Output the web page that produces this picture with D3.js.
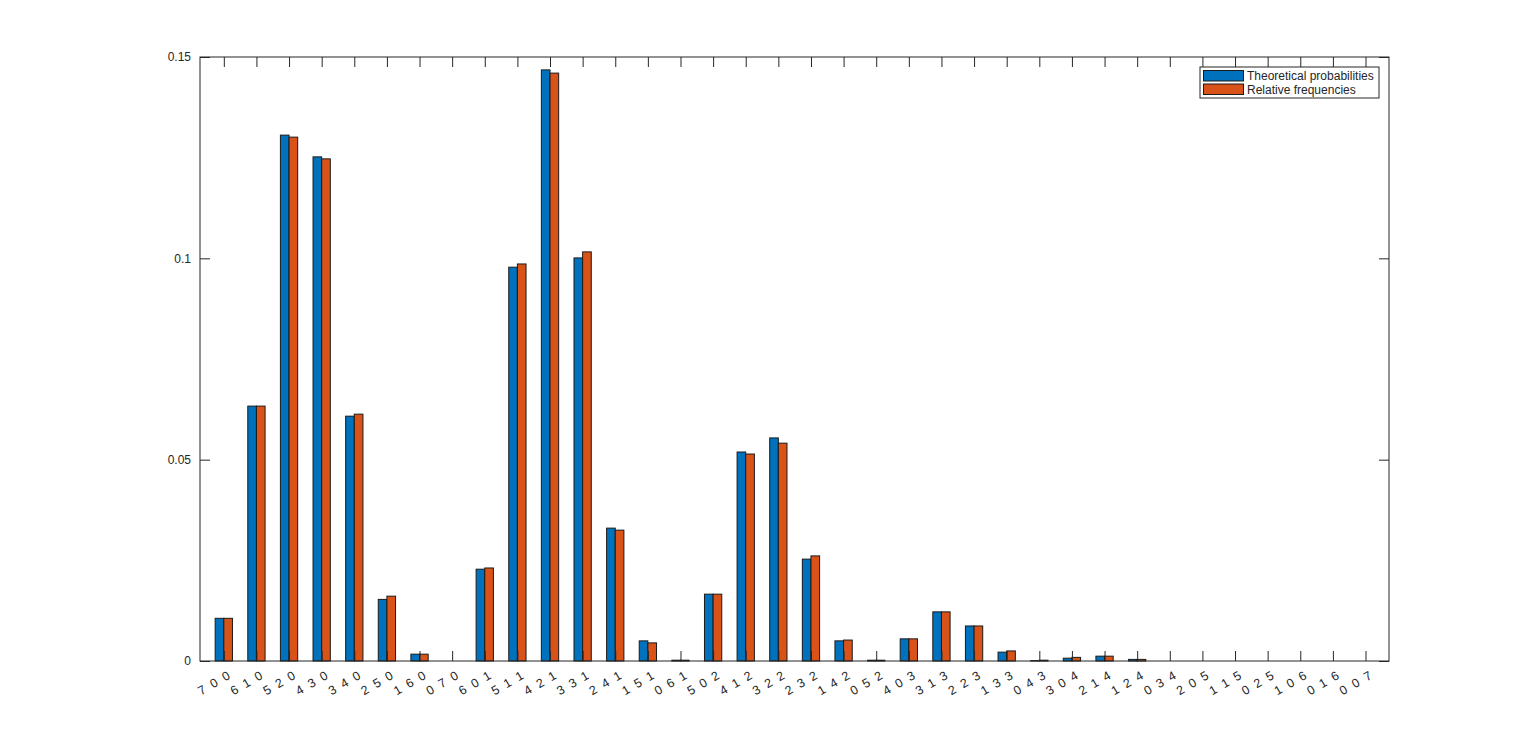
<!DOCTYPE html>
<html>
<head>
<meta charset="utf-8">
<script src="https://cdn.jsdelivr.net/npm/d3@7"></script>
<style>
  html, body { margin: 0; padding: 0; background: #fff; }
  svg { display: block; font-family: "Liberation Sans", Arial, Helvetica, sans-serif; }
</style>
</head>
<body>
<svg id="chart" width="1536" height="744"></svg>
<script>
const categories = ["7 0 0","6 1 0","5 2 0","4 3 0","3 4 0","2 5 0","1 6 0","0 7 0",
  "6 0 1","5 1 1","4 2 1","3 3 1","2 4 1","1 5 1","0 6 1",
  "5 0 2","4 1 2","3 2 2","2 3 2","1 4 2","0 5 2",
  "4 0 3","3 1 3","2 2 3","1 3 3","0 4 3",
  "3 0 4","2 1 4","1 2 4","0 3 4",
  "2 0 5","1 1 5","0 2 5",
  "1 0 6","0 1 6","0 0 7"];
const theoretical = [0.0106,0.0633,0.1306,0.1252,0.0608,0.0153,0.0017,0.0000,
  0.0228,0.0978,0.1468,0.1001,0.0330,0.0050,0.0002,
  0.0166,0.0519,0.0554,0.0253,0.0050,0.0002,
  0.0055,0.0122,0.0087,0.0022,0.0001,
  0.0007,0.0012,0.0004,0.0000,
  0,0,0, 0,0,0];
const relative = [0.0106,0.0633,0.1301,0.1247,0.0613,0.0161,0.0017,0.0000,
  0.0231,0.0986,0.1460,0.1016,0.0325,0.0045,0.0002,
  0.0166,0.0514,0.0541,0.0261,0.0052,0.0002,
  0.0055,0.0122,0.0087,0.0025,0.0002,
  0.0009,0.0012,0.0004,0.0000,
  0,0,0, 0,0,0];
const yTicks = [0, 0.05, 0.1, 0.15];
const yTickLabels = ["0", "0.05", "0.1", "0.15"];
const seriesNames = ["Theoretical probabilities", "Relative frequencies"];
const seriesColors = ["#0072BD", "#D95319"];

const svg = d3.select("#chart");
const L = 200, R = 1389, T = 57, B = 661;
const textColor = "#262626";

const x = d3.scaleLinear().domain([0.27, 36.72]).range([L, R]);
const y = d3.scaleLinear().domain([0, 0.15]).range([B, T]);
const bw = 0.265;
const idx = categories.map((_, i) => i + 1);

// bars
const series = [theoretical, relative];
series.forEach((vals, s) => {
  svg.append("g").selectAll("rect")
    .data(vals.map((v, i) => ({v, i: i + 1})).filter(d => d.v > 0))
    .join("rect")
    .attr("x", d => s === 0 ? x(d.i - bw) : x(d.i))
    .attr("width", d => x(d.i + bw) - x(d.i))
    .attr("y", d => y(d.v))
    .attr("height", d => y(0) - y(d.v))
    .attr("fill", seriesColors[s])
    .attr("stroke", "#1a1a1a")
    .attr("stroke-width", 1);
});

// axes box
svg.append("rect").attr("x", L).attr("y", T).attr("width", R - L).attr("height", B - T)
  .attr("fill", "none").attr("stroke", textColor).attr("stroke-width", 1);

// bottom axis
const gB = svg.append("g").attr("transform", `translate(0,${B})`)
  .call(d3.axisBottom(x).tickValues(idx).tickSize(-10).tickFormat((d) => categories[d - 1]));
gB.select(".domain").remove();
gB.selectAll(".tick line").attr("stroke", textColor);
gB.selectAll(".tick text")
  .attr("fill", textColor)
  .attr("font-size", 12.5)
  .style("white-space", "pre")
  .text(d => categories[d - 1].split(" ").join("  "))
  .attr("text-anchor", "end")
  .attr("y", 0).attr("dy", "0.75em")
  .attr("transform", "translate(2,9) rotate(-30)");

// top ticks
const gT = svg.append("g").attr("transform", `translate(0,${T})`)
  .call(d3.axisTop(x).tickValues(idx).tickSize(-10).tickFormat(""));
gT.select(".domain").remove();
gT.selectAll(".tick line").attr("stroke", textColor);

// left axis
const gL = svg.append("g").attr("transform", `translate(${L},0)`)
  .call(d3.axisLeft(y).tickValues(yTicks).tickSize(-10).tickPadding(9)
    .tickFormat((d, i) => yTickLabels[i]));
gL.select(".domain").remove();
gL.selectAll(".tick line").attr("stroke", textColor);
gL.selectAll(".tick text").attr("fill", textColor).attr("font-size", 12);

// right ticks
const gR = svg.append("g").attr("transform", `translate(${R},0)`)
  .call(d3.axisRight(y).tickValues(yTicks).tickSize(-10).tickFormat(""));
gR.select(".domain").remove();
gR.selectAll(".tick line").attr("stroke", textColor);

// legend
const lg = svg.append("g").attr("transform", "translate(1200,67)");
lg.append("rect").attr("width", 179).attr("height", 31)
  .attr("fill", "#fff").attr("stroke", textColor).attr("stroke-width", 1);
seriesNames.forEach((name, i) => {
  lg.append("rect").attr("x", 3.5).attr("y", 3.5 + i * 13.5).attr("width", 40).attr("height", 10.5)
    .attr("fill", seriesColors[i]).attr("stroke", "#1a1a1a").attr("stroke-width", 1);
  lg.append("text").attr("x", 47).attr("y", 9 + i * 13.5).attr("dy", "0.35em")
    .attr("font-size", 12).attr("fill", textColor).text(name);
});
</script>
</body>
</html>
